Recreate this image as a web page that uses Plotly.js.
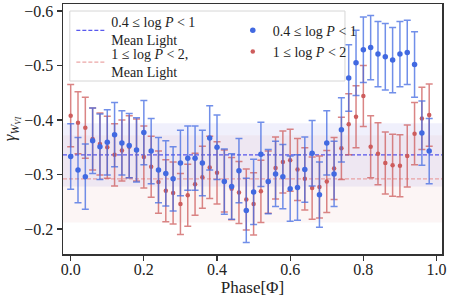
<!DOCTYPE html>
<html>
<head>
<meta charset="utf-8">
<script src="https://cdn.plot.ly/plotly-3.0.1.min.js"></script>
<style>html,body{margin:0;padding:0;background:#fff;}#chart{width:449px;height:301px;}</style>
</head>
<body>
<div id="chart"></div>
<script>
const phase = [0.00,0.02,0.04,0.06,0.08,0.10,0.12,0.14,0.16,0.18,0.20,0.22,0.24,0.26,0.28,0.30,0.32,0.34,0.36,0.38,0.40,0.42,0.44,0.46,0.48,0.50,0.52,0.54,0.56,0.58,0.60,0.62,0.64,0.66,0.68,0.70,0.72,0.74,0.76,0.78,0.80,0.82,0.84,0.86,0.88,0.90,0.92,0.94,0.96,0.98];
const gammaShort = [-0.333,-0.308,-0.296,-0.362,-0.351,-0.359,-0.373,-0.358,-0.353,-0.345,-0.377,-0.343,-0.308,-0.302,-0.292,-0.321,-0.330,-0.330,-0.321,-0.367,-0.350,-0.287,-0.278,-0.307,-0.234,-0.268,-0.337,-0.287,-0.301,-0.296,-0.274,-0.276,-0.309,-0.339,-0.263,-0.358,-0.301,-0.382,-0.477,-0.505,-0.529,-0.533,-0.521,-0.516,-0.510,-0.521,-0.524,-0.502,-0.376,-0.343];
const errShort = [0.060,0.060,0.060,0.060,0.060,0.060,0.059,0.059,0.059,0.059,0.059,0.060,0.060,0.060,0.059,0.060,0.059,0.059,0.060,0.059,0.059,0.060,0.060,0.059,0.059,0.060,0.059,0.059,0.060,0.059,0.060,0.060,0.060,0.060,0.060,0.059,0.060,0.059,0.061,0.060,0.060,0.059,0.060,0.061,0.060,0.060,0.059,0.060,0.059,0.060];
const gammaLong = [-0.408,-0.395,-0.386,-0.365,-0.356,-0.350,-0.336,-0.344,-0.351,-0.345,-0.332,-0.314,-0.286,-0.270,-0.266,-0.246,-0.262,-0.282,-0.295,-0.313,-0.303,-0.288,-0.274,-0.267,-0.254,-0.246,-0.269,-0.286,-0.312,-0.323,-0.326,-0.309,-0.292,-0.275,-0.277,-0.287,-0.311,-0.348,-0.392,-0.406,-0.444,-0.351,-0.338,-0.321,-0.317,-0.316,-0.334,-0.375,-0.403,-0.409];
const errLong = [0.057,0.057,0.056,0.057,0.057,0.057,0.057,0.056,0.057,0.057,0.057,0.056,0.057,0.057,0.057,0.056,0.057,0.057,0.057,0.057,0.057,0.057,0.057,0.057,0.056,0.057,0.057,0.057,0.057,0.057,0.057,0.057,0.057,0.057,0.057,0.057,0.057,0.057,0.056,0.057,0.056,0.057,0.057,0.057,0.057,0.057,0.057,0.057,0.057,0.057];
const meanShort = -0.336, bandShort = 0.058;
const meanLong = -0.292, bandLong = 0.080;
const xRange = [-0.021, 1.015];
const yRange = [-0.154, -0.613];
const labelShort = "0.4 ≤ log <i>P</i> &lt; 1";
const labelLong = "1 ≤ log <i>P</i> &lt; 2";

const FONT = "Liberation Serif, DejaVu Serif, serif";
const blue = "#4169e1", red = "#cd5c5c";

const traces = [
  {x: xRange, y: [meanShort, meanShort], mode: "lines", name: labelShort + "<br>Mean Light", legend: "legend",
   line: {color: "rgba(60,60,235,0.85)", width: 1.3, dash: "4px,2px"}, hoverinfo: "skip"},
  {x: xRange, y: [meanLong, meanLong], mode: "lines", name: labelLong + ",<br>Mean Light", legend: "legend3",
   line: {color: "rgba(232,150,150,0.85)", width: 1.3, dash: "4px,2px"}, hoverinfo: "skip"},
  {x: phase, y: gammaLong, mode: "markers", name: labelLong, legend: "legend2", legendrank: 2,
   marker: {color: red, size: 4.5},
   error_y: {type: "data", array: errLong, visible: true, color: "rgba(205,92,92,0.75)", thickness: 1.5, width: 3.5}},
  {x: phase, y: gammaShort, mode: "markers", name: labelShort, legend: "legend2", legendrank: 1,
   marker: {color: blue, size: 5.5},
   error_y: {type: "data", array: errShort, visible: true, color: "rgba(65,105,225,0.75)", thickness: 1.5, width: 3.5}}
];

const legendFont = {family: FONT, size: 14, color: "#222"};
const legendBase = {xanchor: "left", yanchor: "top", traceorder: "normal",
  bgcolor: "rgba(0,0,0,0)", borderwidth: 0, font: legendFont, itemwidth: 30, tracegroupgap: 0};
const layout = {
  width: 449, height: 301,
  margin: {l: 63, r: 7, t: 4, b: 47},
  paper_bgcolor: "#fff", plot_bgcolor: "#fff",
  font: {family: FONT, size: 15, color: "#222"},
  showlegend: true,
  legend: Object.assign({}, legendBase, {x: 0.022, y: 0.993}),
  legend3: Object.assign({}, legendBase, {x: 0.022, y: 0.866}),
  legend2: Object.assign({}, legendBase, {x: 0.448, y: 0.957}),
  xaxis: {range: xRange, showgrid: false, zeroline: false, showline: true, mirror: true,
    linecolor: "#333", linewidth: 1.5, ticks: "outside", ticklen: 5, tickwidth: 1.2, tickcolor: "#333",
    tickvals: [0, 0.2, 0.4, 0.6, 0.8, 1.0], ticktext: ["0.0","0.2","0.4","0.6","0.8","1.0"],
    tickfont: {size: 16}, ticklabelstandoff: -5,
    title: {text: "Phase[Φ]", font: {size: 17}, standoff: 0}},
  yaxis: {range: yRange, showgrid: false, zeroline: false, showline: true, mirror: true,
    linecolor: "#333", linewidth: 1.5, ticks: "outside", ticklen: 5, tickwidth: 1.2, tickcolor: "#333",
    tickvals: [-0.6, -0.5, -0.4, -0.3, -0.2], ticktext: ["−0.6","−0.5","−0.4","−0.3","−0.2"],
    tickfont: {size: 16},
    title: {text: "<i>γ</i><sub><i>W</i><sub><i>VI</i></sub></sub>", font: {size: 17}, standoff: 6}},
  shapes: [
    {type: "rect", xref: "paper", x0: 0, x1: 1, yref: "y", y0: meanShort - bandShort, y1: meanShort + bandShort,
     fillcolor: "rgba(110,110,230,0.10)", line: {width: 0}, layer: "below"},
    {type: "rect", xref: "paper", x0: 0, x1: 1, yref: "y", y0: meanLong - bandLong, y1: meanLong + bandLong,
     fillcolor: "rgba(225,160,160,0.10)", line: {width: 0}, layer: "below"},
    {type: "rect", xref: "paper", yref: "paper", x0: 0.018, x1: 0.744, y0: 0.692, y1: 0.972,
     fillcolor: "rgba(255,255,255,0.85)", line: {color: "#d6d6d6", width: 1}, layer: "above"}
  ]
};

Plotly.newPlot("chart", traces, layout, {displayModeBar: false, staticPlot: true});
</script>
</body>
</html>
